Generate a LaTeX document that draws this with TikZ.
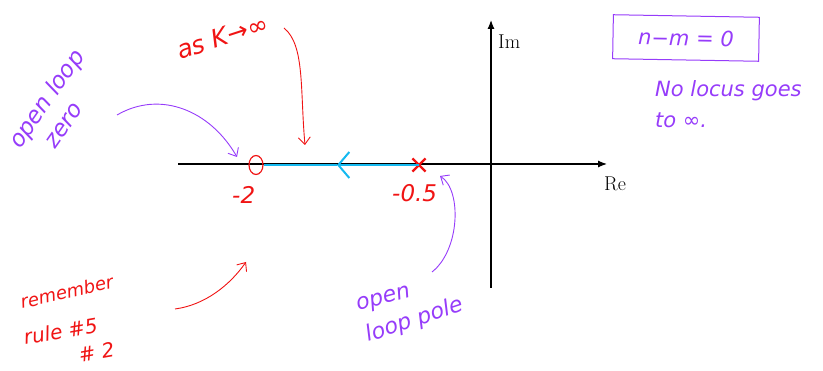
\documentclass[tikz,border=0pt]{standalone}
\usepackage{fontspec}
\newfontfamily\handfont{DejaVu Sans}
\usetikzlibrary{arrows.meta,shapes.geometric,shapes.misc}
\definecolor{ink}{RGB}{240,20,20}
\definecolor{vio}{RGB}{150,60,250}
\definecolor{loc}{RGB}{20,185,240}
\tikzset{
  axis/.style={line width=1.2pt,-{Latex[length=9pt,width=7pt]}},
  hand/.style={font=\handfont\itshape\fontsize{21}{24}\selectfont,inner sep=0pt,anchor=base west},
  redtxt/.style={hand,text=ink},
  viotxt/.style={hand,text=vio},
  redarr/.style={draw=ink,line width=0.9pt,-{Straight Barb[length=7pt,width=12pt]}},
  vioarr/.style={draw=vio,line width=0.9pt,-{Straight Barb[length=7pt,width=12pt]}},
  zeromark/.style={ellipse,draw=ink,line width=1.2pt,minimum width=14pt,minimum height=19pt,inner sep=0pt},
  polemark/.style={cross out,draw=ink,line width=2.2pt,minimum size=11pt,inner sep=0pt},
  locus/.style={draw=loc,line width=2.2pt},
  axlabel/.style={font=\fontsize{20}{22}\selectfont,inner sep=0pt,anchor=base west}
}
\begin{document}
\begin{tikzpicture}[x=1pt,y=-1pt]
\useasboundingbox (0,0) rectangle (823,371);
% axes
\coordinate (reL) at (178,164);
\coordinate (reR) at (607,164);
\coordinate (imB) at (491,288);
\coordinate (imT) at (491,20);
\draw[axis] (reL) -- (reR);
\draw[axis] (imB) -- (imT);
\node[axlabel] (im) at (498,49) {Im};
\node[axlabel] (re) at (604,191) {Re};
% zero and pole
\node[zeromark] (z) at (256,165) {};
\node[polemark] (p) at (419,165) {};
\coordinate (chev) at (337,165);
\draw[locus,-{Straight Barb[length=11pt,width=26pt,line width=2pt]}] (p.center) -- (chev);
\draw[locus] (chev) -- (z.east);
\node[redtxt,font=\handfont\itshape\fontsize{23}{26}\selectfont] (zl) at (232,204) {-2};
\node[redtxt,font=\handfont\itshape\fontsize{23}{26}\selectfont] (pl) at (392,202) {-0.5};
% as K -> inf
\node[redtxt,rotate=18,font=\handfont\itshape\fontsize{25}{28}\selectfont] (ask) at (180,60) {as K→∞};
\coordinate (askend) at (284,28);
\coordinate (asktip) at (305,145);
\draw[redarr] (askend) .. controls (305,45) and (300,90) .. (asktip);
% open loop zero
\node[viotxt,font=\handfont\itshape\fontsize{23}{26}\selectfont,rotate=55] (olz1) at (20,150) {open loop};
\node[viotxt,font=\handfont\itshape\fontsize{23}{26}\selectfont,rotate=55] (olz2) at (55,150) {zero};
\coordinate (olzs) at (117,115);
\coordinate (olztip) at (237,157);
\draw[vioarr] (olzs) .. controls (160,90) and (210,110) .. (olztip);
% remember rule
\node[redtxt,rotate=13,font=\handfont\itshape\fontsize{18}{20}\selectfont] (rem) at (22,309) {remember};
\node[redtxt,rotate=10,font=\handfont\itshape\fontsize{20}{22}\selectfont] (rule) at (25,345) {rule \#5};
\node[redtxt,rotate=10,font=\handfont\itshape\fontsize{20}{22}\selectfont] (two) at (80,363) {\# 2};
\coordinate (rems) at (175,309);
\coordinate (remtip) at (246,262);
\draw[redarr] (rems) .. controls (205,305) and (230,285) .. (remtip);
% open loop pole
\node[viotxt,rotate=15,font=\handfont\itshape\fontsize{22}{24}\selectfont] (olp1) at (358,311) {open};
\node[viotxt,rotate=18,font=\handfont\itshape\fontsize{22}{24}\selectfont] (olp2) at (368,342) {loop pole};
\coordinate (olps) at (432,272);
\coordinate (olptip) at (440,176);
\draw[vioarr] (olps) .. controls (460,250) and (462,190) .. (olptip);
% box
\node[viotxt,anchor=center,draw=vio,line width=1pt,minimum width=146pt,minimum height=44pt,rotate=-1] (nm) at (686,38) {n−m = 0};
\node[viotxt] (nl1) at (655,97) {No locus goes};
\node[viotxt] (nl2) at (655,128) {to ∞.};
\end{tikzpicture}
\end{document}
